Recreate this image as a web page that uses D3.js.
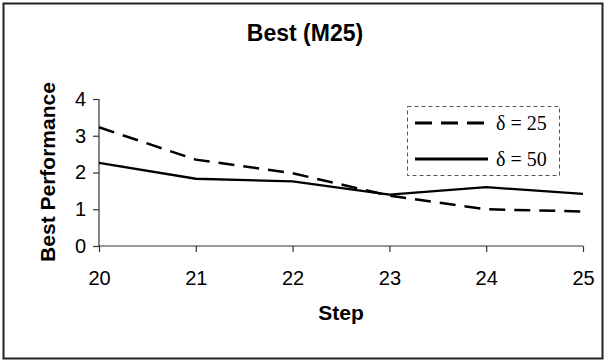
<!DOCTYPE html>
<html><head><meta charset="utf-8">
<script src="https://cdn.jsdelivr.net/npm/d3@7"></script>
<style>body{margin:0;background:#fff}svg{display:block}</style>
</head><body>
<svg id="c" width="605" height="363"></svg>
<script>
const steps = [20, 21, 22, 23, 24, 25];
const delta25 = [3.23, 2.35, 1.98, 1.37, 1.00, 0.94];
const delta50 = [2.26, 1.83, 1.76, 1.40, 1.60, 1.42];
const yTicks = [0, 1, 2, 3, 4];
const seriesNames = ["\u03b4 = 25", "\u03b4 = 50"];
const title = "Best (M25)";
const xTitle = "Step";
const yTitle = "Best Performance";

const svg = d3.select("#c");
svg.append("rect").attr("x", 3.5).attr("y", 3.5).attr("width", 599).attr("height", 355)
  .attr("fill", "#fff").attr("stroke", "#222").attr("stroke-width", 2);

const x = d3.scaleLinear().domain([20, 25]).range([99, 583]);
const y = d3.scaleLinear().domain([0, 4]).range([246, 99]);

const font = "Arial, 'Liberation Sans', sans-serif";

// axes
const xa = svg.append("g").attr("transform", "translate(0,246)")
  .call(d3.axisBottom(x).tickValues(steps).tickFormat(d3.format("d")).tickSizeOuter(0).tickSize(6).tickPadding(8));
const ya = svg.append("g").attr("transform", "translate(99,0)")
  .call(d3.axisLeft(y).tickValues(yTicks).tickFormat(d3.format("d")).tickSizeOuter(0).tickSize(6).tickPadding(7));
[xa, ya].forEach(g => {
  g.attr("font-size", null).attr("font-family", null);
  g.select(".domain").attr("stroke", "#333").attr("stroke-width", 1.2);
  g.selectAll(".tick line").attr("stroke", "#333").attr("stroke-width", 1.2);
  g.selectAll(".tick text").style("font-family", font).style("font-size", "20px").attr("fill", "#000");
});
xa.selectAll(".tick text").attr("dy", null).attr("y", 39);
xa.select(".domain").attr("d", `M${x(20)},0H${x(25)}`);
ya.select(".domain").attr("d", `M0,${y(0)}V${y(4)}`);

// lines
const line = d3.line().x((d, i) => x(steps[i])).y(d => y(d));
svg.append("path").datum(delta25).attr("d", line).attr("fill", "none")
  .attr("stroke", "#000").attr("stroke-width", 2.5).attr("stroke-dasharray", "16,9");
svg.append("path").datum(delta50).attr("d", line).attr("fill", "none")
  .attr("stroke", "#000").attr("stroke-width", 2.3);

// titles
svg.append("text").attr("x", 305).attr("y", 41).attr("text-anchor", "middle")
  .style("font-family", font).attr("font-weight", "bold").style("font-size", "23px").text(title);
svg.append("text").attr("x", 341).attr("y", 320).attr("text-anchor", "middle")
  .style("font-family", font).attr("font-weight", "bold").style("font-size", "21px").text(xTitle);
svg.append("text").attr("transform", "translate(55,172) rotate(-90)").attr("text-anchor", "middle")
  .style("font-family", font).attr("font-weight", "bold").style("font-size", "21px").text(yTitle);

// legend
const lg = svg.append("g");
lg.append("rect").attr("x", 407.5).attr("y", 106.5).attr("width", 152).attr("height", 69)
  .attr("fill", "#fff").attr("stroke", "#555").attr("stroke-width", 1).attr("stroke-dasharray", "4,3");
const ly = [123, 159];
seriesNames.forEach((n, i) => {
  lg.append("line").attr("x1", 415).attr("x2", 488).attr("y1", ly[i]).attr("y2", ly[i])
    .attr("stroke", "#000").attr("stroke-width", 3)
    .attr("stroke-dasharray", i === 0 ? "17,9" : null);
  lg.append("text").attr("x", 496).attr("y", ly[i] + 7)
    .style("font-family", "'Liberation Serif', 'DejaVu Serif', serif").style("font-size", "20px").text(n);
});
</script>
</body></html>
